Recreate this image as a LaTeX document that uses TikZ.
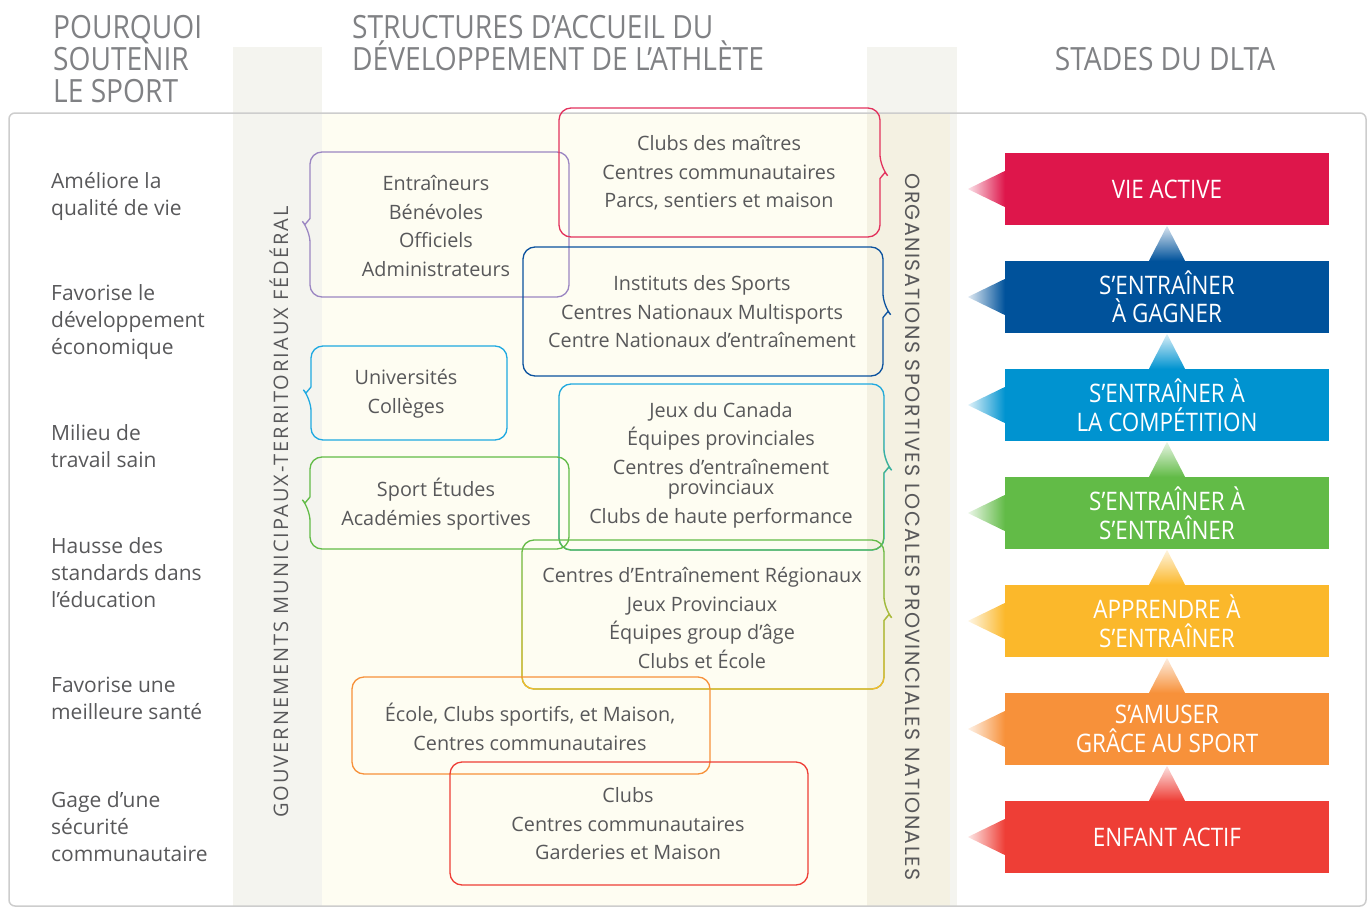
\documentclass[tikz,border=0pt]{standalone}
\usepackage{fontspec}
\setmainfont{Open Sans}
\newfontfamily\condfont[FakeStretch=0.88]{Open Sans}
\newfontfamily\bandfont[LetterSpace=10]{Open Sans}
\newfontfamily\orgfont[LetterSpace=7]{Poppins}
\usetikzlibrary{positioning, fadings}

\definecolor{txt}{HTML}{58585A}
\definecolor{head}{HTML}{808184}
\definecolor{band}{HTML}{F4F4EF}
\definecolor{bandb}{HTML}{F4F1E2}
\definecolor{cream}{HTML}{FEFDF2}
\definecolor{cadre}{HTML}{CDCDCD}
% couleurs des stades
\definecolor{vie}{HTML}{DE164B}
\definecolor{gagner}{HTML}{00529B}
\definecolor{compet}{HTML}{0093D0}
\definecolor{entrainer}{HTML}{62BB47}
\definecolor{apprendre}{HTML}{FBB82B}
\definecolor{amuser}{HTML}{F7913A}
\definecolor{enfant}{HTML}{EE3E36}
\definecolor{mauve}{HTML}{9B86C2}
\definecolor{bleuclair}{HTML}{1FA9E1}
\definecolor{rose}{HTML}{E2315C}
\definecolor{bleu}{HTML}{0B529E}

\tikzfading[name=fade down, top color=transparent!100, middle color=transparent!50, bottom color=transparent!0]

% cadre arrondi, pointe a droite : [options] couleur x1 y1 x2 y2
\newcommand{\cadred}[6][]{%
  \draw[#2, line width=1.3pt, #1] [rounded corners=12] (#5,{(#4+#6)/2+6}) -- (#5,#6) -- (#3,#6) -- (#3,#4) -- (#5,#4) -- (#5,{(#4+#6)/2-6})
    [sharp corners] -- (#5+5,{(#4+#6)/2}) -- cycle;}
% cadre arrondi, pointe a gauche
\newcommand{\cadreg}[6][]{%
  \draw[#2, line width=1.3pt, #1] [rounded corners=12] (#3,{(#4+#6)/2-6}) -- (#3,#4) -- (#5,#4) -- (#5,#6) -- (#3,#6) -- (#3,{(#4+#6)/2+6})
    [sharp corners] -- (#3-5,{(#4+#6)/2}) -- cycle;}
% pointes des stades
\newcommand{\pointe}[2]{%
  \shade[left color=#2!12, right color=#2] ([xshift=-37pt]#1.west) -- ([yshift=18pt]#1.west) -- ([yshift=-18pt]#1.west) -- cycle;}
\newcommand{\fleche}[2]{%
  \shade[top color=#2!15, bottom color=#2] ([yshift=35pt]#1.north) -- ([xshift=18pt]#1.north) -- ([xshift=-18pt]#1.north) -- cycle;}

\begin{document}
\begin{tikzpicture}[x=1pt, y=-1pt, node distance=108pt, on grid,
  raison/.style={anchor=north west, align=left, inner sep=0pt, text=txt, font=\fontsize{21}{27}\selectfont},
  lieu/.style={align=center, inner sep=0pt, text=txt, font=\fontsize{19.8}{28.5}\selectfont},
  titre/.style={inner sep=0pt, text=head, font=\condfont\fontsize{32}{32}\selectfont},
  stade/.style={minimum width=324pt, minimum height=72pt, inner sep=0pt, align=center, text=white, font=\condfont\fontsize{25.5}{28.5}\selectfont}]
\useasboundingbox (0,0) rectangle (1369,907);

% fonds des colonnes
\fill[band] (233,47) rectangle (322,907);
\fill[band] (867,47) rectangle (957,907);
\fill[bandb] (867,113) rectangle (950,907);
\fill[cream] (322,113) rectangle (867,907);
\draw[cadre, line width=1.5pt, rounded corners=6] (9,113) rectangle (1366,906);

% titres
\node[titre, anchor=north west, align=left] (pourquoi) at (53,15) {POURQUOI\\SOUTENIR\\LE SPORT};
\node[titre, anchor=north west, align=left] (structures) at (352,15) {STRUCTURES D’ACCUEIL DU\\DÉVELOPPEMENT DE L’ATHLÈTE};
\node[titre, anchor=north] (stades) at (1165,47) {STADES DU DLTA};

% colonne de gauche
\node[raison] (r1) at (51,172) {Améliore la\\qualité de vie};
\node[raison] (r2) at (51,284) {Favorise le\\développement\\économique};
\node[raison] (r3) at (51,424) {Milieu de\\travail sain};
\node[raison] (r4) at (51,537) {Hausse des\\standards dans\\l’éducation};
\node[raison] (r5) at (51,677) {Favorise une\\meilleure santé};
\node[raison] (r6) at (51,791) {Gage d’une\\sécurité\\communautaire};

% textes verticaux
\node[rotate=90, text=txt, font=\bandfont\fontsize{20}{20}\selectfont] (gouv) at (279,512) {GOUVERNEMENTS MUNICIPAUX-TERRITORIAUX FÉDÉRAL};
\node[rotate=-90, text=txt, font=\orgfont\fontsize{20.5}{20}\selectfont] (orgs) at (913,527) {ORGANISATIONS SPORTIVES LOCALES PROVINCIALES NATIONALES};

% structures d'accueil
\cadreg{mauve}{310}{152}{569}{297}
\cadred{rose}{559}{108}{880}{237}
\cadred{bleu}{523}{247}{883}{376}
\cadreg{bleuclair}{311}{346}{507}{440}
\cadred{bleuclair}{559}{384}{884}{550}
\cadred[path fading=fade down]{entrainer}{559}{384}{884}{550}
\cadreg{entrainer}{310}{457}{569}{549}
\cadred{entrainer}{522}{540}{884}{689}
\cadred[path fading=fade down]{apprendre}{522}{540}{884}{689}
\draw[amuser, line width=1.3pt, rounded corners=12] (352,677) rectangle (710,774);
\draw[enfant, line width=1.3pt, rounded corners=12] (450,762) rectangle (808,885);

\node[lieu] (benevoles) at (436,226) {Entraîneurs\\Bénévoles\\Officiels\\Administrateurs};
\node[lieu] (maitres) at (719,173) {Clubs des maîtres\\Centres communautaires\\Parcs, sentiers et maison};
\node[lieu] (instituts) at (702,312) {Instituts des Sports\\Centres Nationaux Multisports\\Centre Nationaux d’entraînement};
\node[lieu] (univ) at (406,394) {Universités\\Collèges};
\node[lieu] (canada) at (721,465) {Jeux du Canada\\Équipes provinciales\\Centres d’entraînement\\[-8pt]provinciaux\\Clubs de haute performance};
\node[lieu] (etudes) at (436,504) {Sport Études\\Académies sportives};
\node[lieu] (regionaux) at (702,618) {Centres d’Entraînement Régionaux\\Jeux Provinciaux\\Équipes group d’âge\\Clubs et École};
\node[lieu] (ecole) at (530,727) {École, Clubs sportifs, et Maison,\\Centres communautaires};
\node[lieu] (clubs) at (628,824) {Clubs\\Centres communautaires\\Garderies et Maison};

% stades du DLTA
\node[stade, fill=vie] (vieactive) at (1167,189) {VIE ACTIVE};
\node[stade, fill=gagner] (agagner) [below=of vieactive] {S’ENTRAÎNER\\À GAGNER};
\node[stade, fill=compet] (competition) [below=of agagner] {S’ENTRAÎNER À\\LA COMPÉTITION};
\node[stade, fill=entrainer] (sentrainer) [below=of competition] {S’ENTRAÎNER À\\S’ENTRAÎNER};
\node[stade, fill=apprendre] (apprendre) [below=of sentrainer] {APPRENDRE À\\S’ENTRAÎNER};
\node[stade, fill=amuser] (samuser) [below=of apprendre] {S’AMUSER\\GRÂCE AU SPORT};
\node[stade, fill=enfant] (enfantactif) [below=of samuser] {ENFANT ACTIF};

\pointe{vieactive}{vie}
\pointe{agagner}{gagner}
\pointe{competition}{compet}
\pointe{sentrainer}{entrainer}
\pointe{apprendre}{apprendre}
\pointe{samuser}{amuser}
\pointe{enfantactif}{enfant}
\fleche{agagner}{gagner}
\fleche{competition}{compet}
\fleche{sentrainer}{entrainer}
\fleche{apprendre}{apprendre}
\fleche{samuser}{amuser}
\fleche{enfantactif}{enfant}
\end{tikzpicture}
\end{document}
